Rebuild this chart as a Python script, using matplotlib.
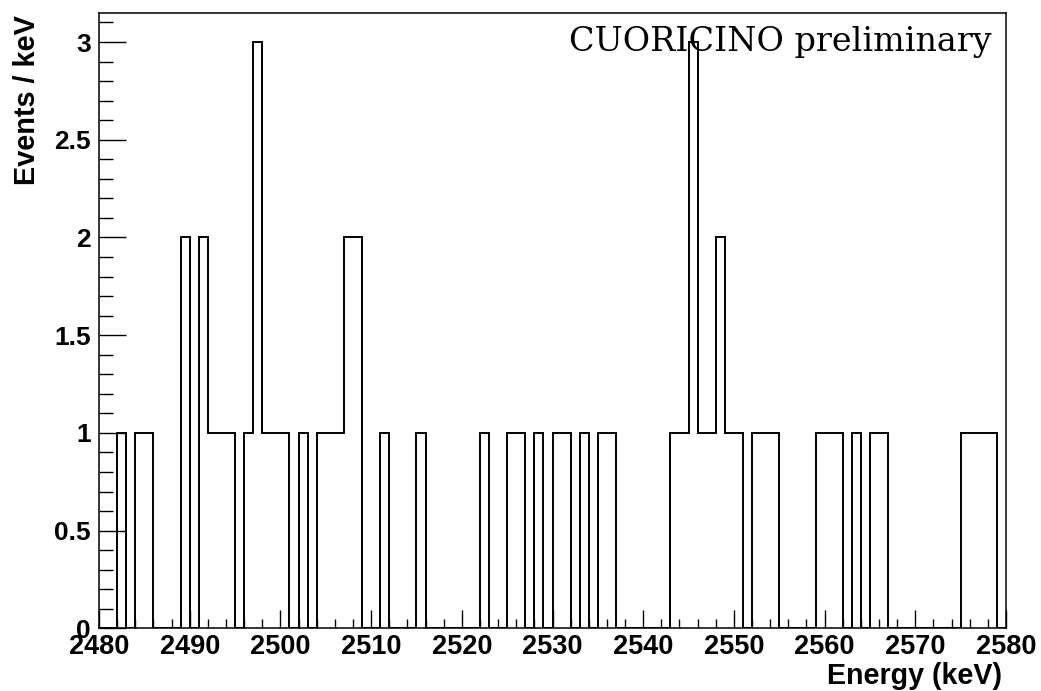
import numpy as np
import matplotlib
matplotlib.use("Agg")
import matplotlib.pyplot as plt
from matplotlib.ticker import MultipleLocator

# 1 keV bins from 2480 to 2580, only non-empty bins listed
e_min, e_max = 2480, 2580
bin_low = [2482, 2484, 2485, 2489, 2491, 2492, 2493, 2494, 2496, 2497,
           2498, 2499, 2500, 2502, 2504, 2505, 2506, 2507, 2508, 2511,
           2515, 2522, 2525, 2526, 2528, 2530, 2531, 2533, 2535, 2536,
           2543, 2544, 2545, 2546, 2547, 2548, 2549, 2550, 2552, 2553,
           2554, 2559, 2560, 2561, 2563, 2565, 2566, 2575, 2576, 2577,
           2578]
counts = [1, 1, 1, 2, 2, 1, 1, 1, 1, 3,
          1, 1, 1, 1, 1, 1, 1, 2, 2, 1,
          1, 1, 1, 1, 1, 1, 1, 1, 1, 1,
          1, 1, 3, 1, 1, 2, 1, 1, 1, 1,
          1, 1, 1, 1, 1, 1, 1, 1, 1, 1,
          1]

edges = np.arange(e_min, e_max + 1)
values = np.zeros(len(edges) - 1)
for lo, c in zip(bin_low, counts):
    values[lo - e_min] = c

W, H = 1041, 691
fig = plt.figure(figsize=(W / 100, H / 100), dpi=100)
ax = fig.add_axes([99 / W, 1 - 628.3 / H, (1006 - 99) / W, (628.3 - 12.7) / H])

ax.stairs(values, edges, color="black", linewidth=1.4)

ax.set_xlim(e_min, e_max)
ax.set_ylim(0, 3.15)

for s in ax.spines.values():
    s.set_linewidth(1.1)

ax.xaxis.set_major_locator(MultipleLocator(10))
ax.xaxis.set_minor_locator(MultipleLocator(2))
ax.yaxis.set_major_locator(MultipleLocator(0.5))
ax.yaxis.set_minor_locator(MultipleLocator(0.1))

ax.tick_params(axis="x", which="major", direction="in", length=13, width=1.0,
               pad=4, labelsize=19.5)
ax.tick_params(axis="x", which="minor", direction="in", length=6.5, width=1.0)
ax.tick_params(axis="y", which="major", direction="in", length=19.5, width=1.0,
               pad=6, labelsize=19)
ax.tick_params(axis="y", which="minor", direction="in", length=10, width=1.0)

ax.yaxis.set_major_formatter(plt.FuncFormatter(lambda v, p: f"{v:g}"))
for lab in ax.get_xticklabels() + ax.get_yticklabels():
    lab.set_fontfamily("Liberation Sans")
    lab.set_fontweight("bold")

fig.text(27 / W, 1 - 15 / H, "Events / keV", rotation=90, ha="center", va="top",
         fontsize=20.8, fontweight="bold", family="Liberation Sans")
fig.text(1002 / W, 1 - 676 / H, "Energy (keV)", ha="right", va="center",
         fontsize=20.6, fontweight="bold", family="Liberation Sans")
fig.text(992 / W, 1 - 51 / H, "CUORICINO preliminary", ha="right", va="baseline",
         fontsize=24, family="DejaVu Serif")

fig.savefig("out.png", dpi=100)
